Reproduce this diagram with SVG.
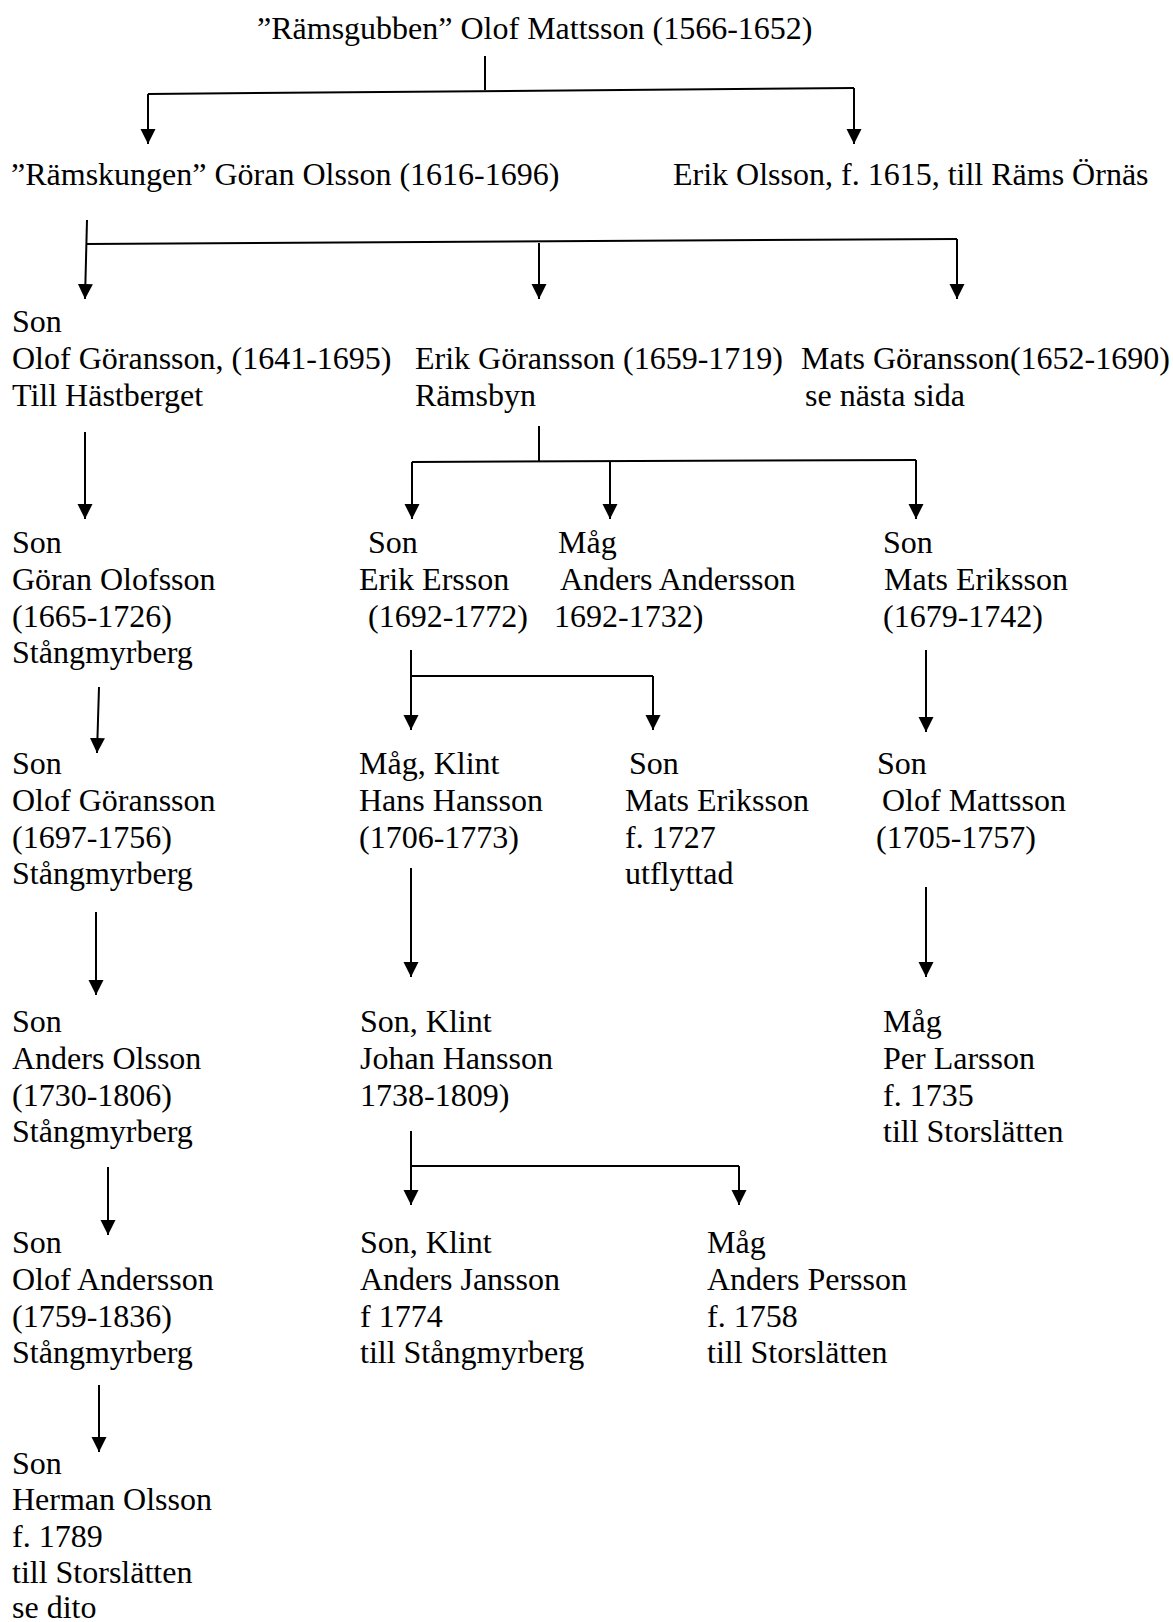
<svg xmlns="http://www.w3.org/2000/svg" width="1173" height="1622" viewBox="0 0 1173 1622">
<style>
text{font-family:"Liberation Serif","Times New Roman",serif;font-size:32px;fill:#000}
.c line,.c path{stroke:#000;stroke-width:2;fill:none}
.a{marker-end:url(#ah)}
</style>
<defs>
<marker id="ah" markerUnits="userSpaceOnUse" viewBox="0 -8 16 16" markerWidth="16" markerHeight="16" refX="15" refY="0" orient="auto">
<path d="M0,-7.5 L15,0 L0,7.5 Z" fill="#000"/>
</marker>
</defs>
<rect width="1173" height="1622" fill="#fff"/>
<g class="c" id="connectors">
<line x1="485" y1="56" x2="485" y2="90"/>
<line x1="148" y1="94" x2="854" y2="88"/>
<line class="a" x1="148" y1="94" x2="148" y2="144"/>
<line class="a" x1="854" y1="88" x2="854" y2="144"/>
<line class="a" x1="87" y1="220" x2="85" y2="299"/>
<line x1="86" y1="244" x2="957" y2="239"/>
<line class="a" x1="539" y1="243" x2="539" y2="299"/>
<line class="a" x1="957" y1="239" x2="957" y2="299"/>
<line class="a" x1="85" y1="432" x2="85" y2="519"/>
<line x1="539" y1="426" x2="539" y2="461"/>
<line x1="412" y1="462" x2="916" y2="460"/>
<line class="a" x1="412" y1="462" x2="412" y2="519"/>
<line class="a" x1="610" y1="461" x2="610" y2="519"/>
<line class="a" x1="916" y1="460" x2="916" y2="519"/>
<line class="a" x1="99" y1="687" x2="97" y2="753"/>
<line class="a" x1="411" y1="650" x2="411" y2="730"/>
<path d="M411,676 H653"/>
<line class="a" x1="653" y1="676" x2="653" y2="730"/>
<line class="a" x1="926" y1="650" x2="926" y2="732"/>
<line class="a" x1="96" y1="912" x2="96" y2="995"/>
<line class="a" x1="411" y1="868" x2="411" y2="977"/>
<line class="a" x1="926" y1="887" x2="926" y2="977"/>
<line class="a" x1="108" y1="1167" x2="108" y2="1235"/>
<line class="a" x1="411" y1="1131" x2="411" y2="1205"/>
<path d="M411,1166 H739"/>
<line class="a" x1="739" y1="1166" x2="739" y2="1205"/>
<line class="a" x1="99" y1="1385" x2="99" y2="1452"/>
</g>
<g id="olof-mattsson"><text x="257" y="39">”Rämsgubben” Olof Mattsson (1566-1652)</text></g>
<g id="goran-olsson"><text x="11" y="185">”Rämskungen” Göran Olsson (1616-1696)</text></g>
<g id="erik-olsson"><text x="673" y="185">Erik Olsson, f. 1615, till Räms Örnäs</text></g>
<g id="olof-goransson-1641"><text x="12" y="332">Son<tspan x="12" dy="36.8">Olof Göransson, (1641-1695)</tspan><tspan x="12" dy="36.8">Till Hästberget</tspan></text></g>
<g id="erik-goransson"><text x="415" y="368.8">Erik Göransson (1659-1719)<tspan x="415" dy="36.8">Rämsbyn</tspan></text></g>
<g id="mats-goransson"><text x="801" y="368.8">Mats Göransson(1652-1690)<tspan x="805" dy="36.8">se nästa sida</tspan></text></g>
<g id="goran-olofsson"><text x="12" y="553">Son<tspan x="12" dy="36.8">Göran Olofsson</tspan><tspan x="12" dy="36.8">(1665-1726)</tspan><tspan x="12" dy="36.8">Stångmyrberg</tspan></text></g>
<g id="erik-ersson"><text x="368" y="553">Son<tspan x="359" dy="36.8">Erik Ersson</tspan><tspan x="368" dy="36.8">(1692-1772)</tspan></text></g>
<g id="anders-andersson"><text x="558" y="553">Måg<tspan x="560" dy="36.8">Anders Andersson</tspan><tspan x="554" dy="36.8">1692-1732)</tspan></text></g>
<g id="mats-eriksson-1679"><text x="883" y="553">Son<tspan x="884" dy="36.8">Mats Eriksson</tspan><tspan x="883" dy="36.8">(1679-1742)</tspan></text></g>
<g id="olof-goransson-1697"><text x="12" y="774">Son<tspan x="12" dy="36.8">Olof Göransson</tspan><tspan x="12" dy="36.8">(1697-1756)</tspan><tspan x="12" dy="36.8">Stångmyrberg</tspan></text></g>
<g id="hans-hansson"><text x="359" y="774">Måg, Klint<tspan x="359" dy="36.8">Hans Hansson</tspan><tspan x="359" dy="36.8">(1706-1773)</tspan></text></g>
<g id="mats-eriksson-1727"><text x="629" y="774">Son<tspan x="625" dy="36.8">Mats Eriksson</tspan><tspan x="625" dy="36.8">f. 1727</tspan><tspan x="625" dy="36.8">utflyttad</tspan></text></g>
<g id="olof-mattsson-1705"><text x="877" y="774">Son<tspan x="882" dy="36.8">Olof Mattsson</tspan><tspan x="876" dy="36.8">(1705-1757)</tspan></text></g>
<g id="anders-olsson"><text x="12" y="1032">Son<tspan x="12" dy="36.8">Anders Olsson</tspan><tspan x="12" dy="36.8">(1730-1806)</tspan><tspan x="12" dy="36.8">Stångmyrberg</tspan></text></g>
<g id="johan-hansson"><text x="360" y="1032">Son, Klint<tspan x="360" dy="36.8">Johan Hansson</tspan><tspan x="360" dy="36.8">1738-1809)</tspan></text></g>
<g id="per-larsson"><text x="883" y="1032">Måg<tspan x="883" dy="36.8">Per Larsson</tspan><tspan x="883" dy="36.8">f. 1735</tspan><tspan x="883" dy="36.8">till Storslätten</tspan></text></g>
<g id="olof-andersson"><text x="12" y="1253">Son<tspan x="12" dy="36.8">Olof Andersson</tspan><tspan x="12" dy="36.8">(1759-1836)</tspan><tspan x="12" dy="36.8">Stångmyrberg</tspan></text></g>
<g id="anders-jansson"><text x="360" y="1253">Son, Klint<tspan x="360" dy="36.8">Anders Jansson</tspan><tspan x="360" dy="36.8">f 1774</tspan><tspan x="360" dy="36.8">till Stångmyrberg</tspan></text></g>
<g id="anders-persson"><text x="707" y="1253">Måg<tspan x="707" dy="36.8">Anders Persson</tspan><tspan x="707" dy="36.8">f. 1758</tspan><tspan x="707" dy="36.8">till Storslätten</tspan></text></g>
<g id="herman-olsson"><text x="12" y="1474">Son<tspan x="12" dy="36.4">Herman Olsson</tspan><tspan x="12" dy="36.4">f. 1789</tspan><tspan x="12" dy="36.4">till Storslätten</tspan><tspan x="12" dy="35">se dito</tspan></text></g>
</svg>
